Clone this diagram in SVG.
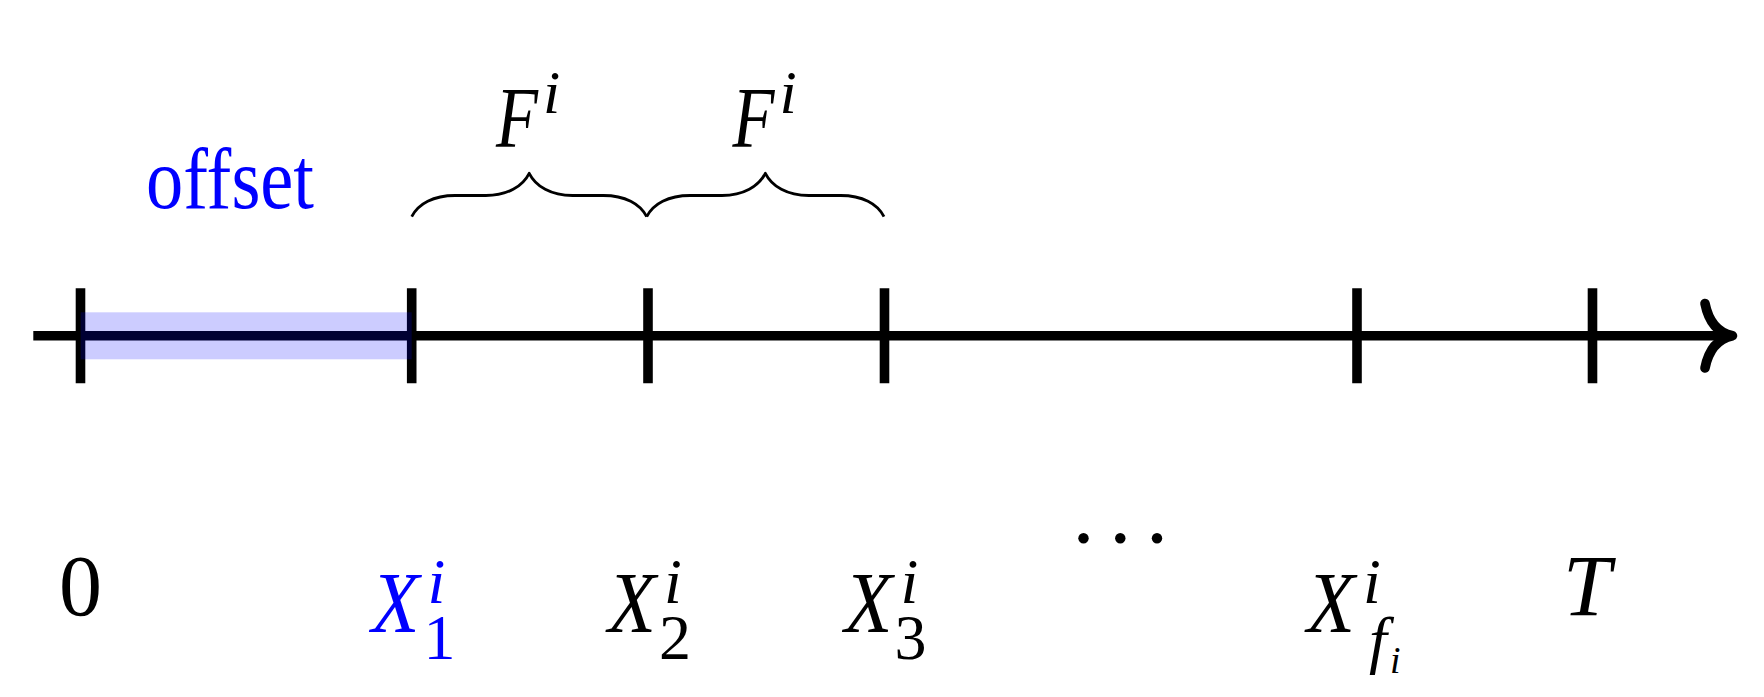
<svg xmlns="http://www.w3.org/2000/svg" width="1764" height="697" viewBox="0 0 1764 697">
  <style>
    .t { font-family: "Liberation Serif", "Times New Roman", serif; fill: #000; }
    .it { font-style: italic; }
    .big { font-size: 86px; }
    .sm { font-size: 64px; }
    .xs { font-size: 38px; }
    .up { font-style: normal; }
    .blue { fill: #0000ff; }
    .axis { stroke: #000; stroke-width: 9.6; fill: none; }
    .tick { stroke: #000; stroke-width: 9.6; fill: none; }
    .brace { stroke: #000; stroke-width: 2.8; fill: none; stroke-linejoin: round; }
  </style>
  <rect x="0" y="0" width="1764" height="697" fill="#fff"/>

  <g id="connectors">
    <line class="axis" x1="33.3" y1="335.8" x2="1728" y2="335.8"/>
    <path class="axis" d="M1705,303.5 C1708.5,321 1716.5,332.5 1732.5,335.8 C1716.5,339.1 1708.5,350.5 1705,368" stroke-linecap="round" stroke-linejoin="round"/>
    <path id="brace1" class="brace" d="M411.7,216.7 C418.2,203.7 433.4,195.5 455.1,195.5 L485.8,195.5 C507.5,195.5 522.7,186.3 529.2,173.3 C535.7,186.3 550.9,195.5 572.6,195.5 L603.3,195.5 C625,195.5 640.2,203.7 646.7,216.7"/>
    <path id="brace2" class="brace" d="M646.7,216.7 C653.2,203.7 668.4,195.5 690.1,195.5 L721.9,195.5 C743.6,195.5 758.8,186.3 765.35,173.3 C771.9,186.3 787.1,195.5 808.8,195.5 L840.6,195.5 C862.3,195.5 877.5,203.7 884,216.7"/>
  </g>

  <g id="ticks">
    <line class="tick" x1="80.5" y1="288.3" x2="80.5" y2="383.3"/>
    <line class="tick" x1="411.7" y1="288.3" x2="411.7" y2="383.3"/>
    <line class="tick" x1="648" y1="288.3" x2="648" y2="383.3"/>
    <line class="tick" x1="884.5" y1="288.3" x2="884.5" y2="383.3"/>
    <line class="tick" x1="1357" y1="288.3" x2="1357" y2="383.3"/>
    <line class="tick" x1="1592.5" y1="288.3" x2="1592.5" y2="383.3"/>
  </g>

  <g id="offset-band">
    <rect x="80.7" y="312.3" width="331" height="47" fill="#0000ff" fill-opacity="0.2"/>
  </g>

  <g id="offset-label">
    <text class="t big blue" x="146" y="208" textLength="168" lengthAdjust="spacingAndGlyphs">offset</text>
  </g>

  <g id="F1">
    <text class="t it big"><tspan x="496" y="147" textLength="42" lengthAdjust="spacingAndGlyphs">F</tspan><tspan x="543" y="112.5" font-size="62">i</tspan></text>
  </g>
  <g id="F2">
    <text class="t it big"><tspan x="732.5" y="147" textLength="42" lengthAdjust="spacingAndGlyphs">F</tspan><tspan x="779.5" y="112.5" font-size="62">i</tspan></text>
  </g>

  <g id="label-0">
    <text class="t big" x="80.5" y="615" text-anchor="middle">0</text>
  </g>

  <g id="label-X1">
    <text class="t it big blue"><tspan x="371.5" y="632" textLength="48" lengthAdjust="spacingAndGlyphs">X</tspan><tspan class="sm" x="427.5" y="602.5">i</tspan><tspan class="sm up" x="423.5" y="659">1</tspan></text>
  </g>

  <g id="label-X2">
    <text class="t it big"><tspan x="608" y="632" textLength="48" lengthAdjust="spacingAndGlyphs">X</tspan><tspan class="sm" x="664" y="602.5">i</tspan><tspan class="sm up" x="659" y="659">2</tspan></text>
  </g>

  <g id="label-X3">
    <text class="t it big"><tspan x="844.5" y="632" textLength="48" lengthAdjust="spacingAndGlyphs">X</tspan><tspan class="sm" x="900.5" y="602.5">i</tspan><tspan class="sm up" x="894.5" y="659">3</tspan></text>
  </g>

  <g id="ellipsis">
    <circle cx="1083.5" cy="538.3" r="5.2" fill="#000"/>
    <circle cx="1120.3" cy="538.3" r="5.2" fill="#000"/>
    <circle cx="1157" cy="538.3" r="5.2" fill="#000"/>
  </g>

  <g id="label-Xfi">
    <text class="t it big"><tspan x="1307" y="632" textLength="48" lengthAdjust="spacingAndGlyphs">X</tspan><tspan class="sm" x="1363" y="602.5">i</tspan><tspan class="sm" x="1369" y="661">f</tspan><tspan class="xs" x="1390" y="672.5">i</tspan></text>
  </g>

  <g id="label-T">
    <text class="t it big" x="1563" y="615">T</text>
  </g>
</svg>
